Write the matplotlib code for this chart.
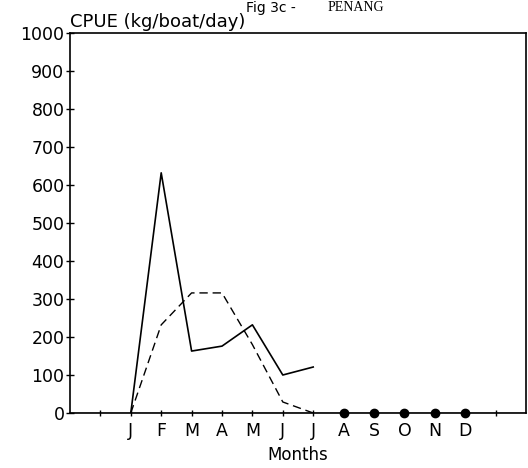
import matplotlib
matplotlib.use("Agg")
import matplotlib.pyplot as plt

# months positions 1..12
months = ["J", "F", "M", "A", "M", "J", "J", "A", "S", "O", "N", "D"]
month_pos = list(range(1, 13))

# solid line (J..J)
solid_x = [1, 2, 3, 4, 5, 6, 7]
solid_y = [0, 632, 163, 176, 232, 100, 121]

# dashed line (J..J)
dashed_x = [1, 2, 3, 4, 5, 6, 7]
dashed_y = [0, 232, 316, 316, 180, 29, 0]

# zero-catch months (A..D)
dots_x = [8, 9, 10, 11, 12]
dots_y = [0, 0, 0, 0, 0]

fig = plt.figure(figsize=(5.28, 4.68), dpi=100)
ax = fig.add_axes([70 / 528, 55 / 468, 456 / 528, 380 / 468])

ax.plot(solid_x, solid_y, "-", color="black", lw=1.2)
ax.plot(dashed_x, dashed_y, color="black", lw=1.0, dashes=(6, 3.5))
ax.plot(dots_x, dots_y, "o", color="black", ms=6, clip_on=False)
ax.axhline(0, color="black", lw=1.0)

ax.set_xlim(-1, 14)
ax.set_ylim(0, 1000)
ax.set_yticks(range(0, 1001, 100))
ax.set_xticks(range(0, 14))
ax.set_xticklabels([""] + months + [""])

for s in ax.spines.values():
    s.set_linewidth(1.2)

ax.tick_params(axis="y", direction="inout", length=6, width=1, pad=1, labelsize=12.5)
ax.tick_params(axis="x", direction="inout", length=5, width=1, pad=4, labelsize=12.5)

ax.set_xlabel("Months", fontsize=12, labelpad=4)
ax.text(0.0, 1.005, "CPUE (kg/boat/day)", transform=ax.transAxes,
        fontsize=13, ha="left", va="bottom")

# title (cut off at the top in the original scan)
fig.text(296 / 528, 1.0 - 1 / 468, "Fig 3c -", fontsize=10, ha="right", va="top")
fig.text(328 / 528, 1.0 - 1 / 468, "PENANG", fontsize=10, ha="left", va="top",
         family="Liberation Serif")

fig.savefig("out.png", dpi=100)
